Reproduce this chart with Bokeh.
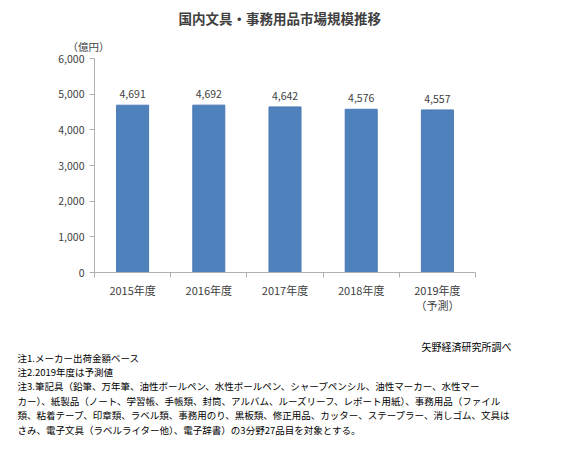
from bokeh.plotting import figure
from bokeh.models import Range1d, FixedTicker, NumeralTickFormatter, Title, ColumnDataSource
from bokeh.core.properties import value
from bokeh.embed import file_html
from bokeh.resources import INLINE

years = ["2015年度", "2016年度", "2017年度", "2018年度", "2019年度\n（予測）"]
sales = [4691, 4692, 4642, 4576, 4557]
value_labels = ["4,691", "4,692", "4,642", "4,576", "4,557"]
y_ticks = [0, 1000, 2000, 3000, 4000, 5000, 6000]
title_text = "国内文具・事務用品市場規模推移"
unit_text = "（億円）"
source_text = "矢野経済研究所調べ"
notes = [
    "注1.メーカー出荷金額ベース",
    "注2.2019年度は予測値",
    "注3.筆記具（鉛筆、万年筆、油性ボールペン、水性ボールペン、シャープペンシル、油性マーカー、水性マー",
    "カー）、紙製品（ノート、学習帳、手帳類、封筒、アルバム、ルーズリーフ、レポート用紙）、事務用品（ファイル",
    "類、粘着テープ、印章類、ラベル類、事務用のり、黒板類、修正用品、カッター、ステープラー、消しゴム、文具は",
    "さみ、電子文具（ラベルライター他）、電子辞書）の3分野27品目を対象とする。",
]

FONT = "Noto Sans CJK JP"
TXT = "#404040"
W, H = 567, 453
FL, FR, FT, FB = 94, 475, 58, 272

n = len(years)
xs = [i + 0.5 for i in range(n)]
src = ColumnDataSource(dict(x=xs, top=sales, lab=value_labels))

p = figure(width=W, height=H, x_range=Range1d(0, n), y_range=Range1d(0, 6000),
           output_backend="svg", toolbar_location=None,
           min_border_left=FL, min_border_right=W - FR,
           min_border_top=FT, min_border_bottom=H - FB)
p.outline_line_color = None
p.grid.visible = False
p.background_fill_color = "white"
p.border_fill_color = "white"

p.vbar(x="x", top="top", width=0.42, source=src, fill_color="#4f81bd", line_color="#4a7ab5")
p.text(x="x", y="top", text="lab", source=src, text_align="center", text_baseline="bottom",
       y_offset=-7, text_font=value(FONT), text_font_size="10.5px", text_color=TXT)

ax = p.xaxis[0]
ax.ticker = FixedTicker(ticks=xs, minor_ticks=list(range(n + 1)))
ax.major_label_overrides = {x: y for x, y in zip(xs, years)}
ax.major_tick_line_color = None
ax.minor_tick_out = 5
ax.minor_tick_in = 0
ax.minor_tick_line_color = "#b0b0b0"
ax.axis_line_color = "#b0b0b0"
ax.major_label_text_font = FONT
ax.major_label_text_font_size = "11px"
ax.major_label_text_color = TXT
ax.major_label_text_line_height = 0.95
ax.major_label_standoff = 3

ay = p.yaxis[0]
ay.ticker = FixedTicker(ticks=y_ticks, minor_ticks=[])
ay.formatter = NumeralTickFormatter(format="0,0")
ay.major_tick_out = 5
ay.major_tick_in = 0
ay.major_tick_line_color = "#b0b0b0"
ay.axis_line_color = "#b0b0b0"
ay.minor_tick_line_color = None
ay.major_label_text_font = FONT
ay.major_label_text_font_size = "10.5px"
ay.major_label_text_color = TXT
ay.major_label_standoff = 5

p.title.text = title_text
p.title.align = "left"
p.title.offset = 84
p.title.text_font = FONT
p.title.text_font_size = "13.5px"
p.title.text_color = TXT
p.title.text_font_style = "bold"
p.title.standoff = 10

p.add_layout(Title(text=unit_text, align="left", offset=-27, text_font=FONT,
                   text_font_size="10.5px", text_color=TXT, text_font_style="normal",
                   standoff=9), "above")

p.add_layout(Title(text=source_text, align="right", offset=-36, text_font=FONT,
                   text_font_size="10px", text_color="black", text_font_style="normal",
                   standoff=43), "below")
p.add_layout(Title(text="\n".join(notes), align="left", offset=-77, text_font=FONT,
                   text_font_size="9.5px", text_color="black", text_font_style="normal",
                   text_line_height=1.03, vertical_align="top", standoff=-50), "below")

open("out.html", "w").write(file_html(p, INLINE))
